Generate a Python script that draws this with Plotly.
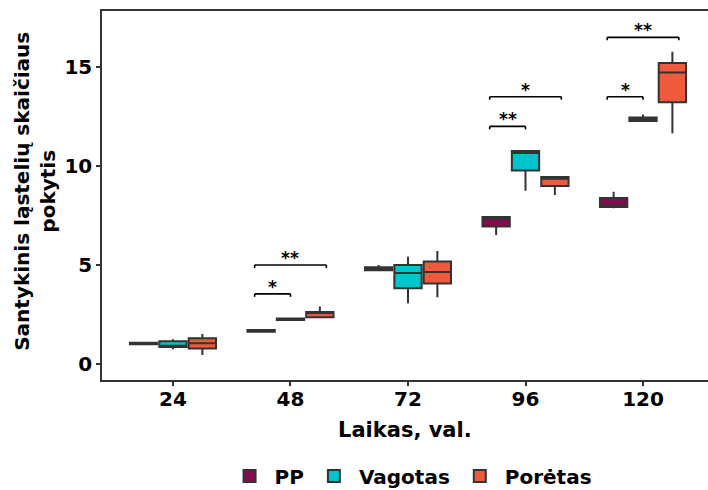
import plotly.graph_objects as go

# ---- data ----
times = ["24", "48", "72", "96", "120"]
groups = ["PP", "Vagotas", "Porėtas"]
colors = ["#850A50", "#00C4CC", "#EF5A3C"]

pp_q1 = [0.99, 1.63, 4.74, 6.95, 7.93]
pp_med = [1.03, 1.67, 4.82, 7.34, 8.00]
pp_q3 = [1.07, 1.71, 4.88, 7.42, 8.38]
pp_lo = [0.99, 1.63, 4.74, 6.52, 7.86]
pp_hi = [1.07, 1.71, 5.00, 7.42, 8.70]

vg_q1 = [0.86, 2.22, 3.82, 9.77, 12.27]
vg_med = [0.92, 2.26, 4.60, 10.66, 12.35]
vg_q3 = [1.15, 2.30, 5.00, 10.76, 12.45]
vg_lo = [0.74, 2.22, 3.07, 8.75, 12.27]
vg_hi = [1.25, 2.30, 5.42, 10.76, 12.60]

po_q1 = [0.78, 2.36, 4.06, 8.99, 13.22]
po_med = [1.05, 2.57, 4.65, 9.36, 14.72]
po_q3 = [1.30, 2.63, 5.17, 9.44, 15.20]
po_lo = [0.45, 2.36, 3.37, 8.54, 11.65]
po_hi = [1.52, 2.90, 5.71, 9.44, 15.77]

# significance brackets: time index, compared group, level, label
sig_time = [1, 1, 3, 3, 4, 4]
sig_to = ["Vagotas", "Porėtas", "Vagotas", "Porėtas", "Vagotas", "Porėtas"]
sig_level = [3.54, 5.0, 12.0, 13.5, 13.5, 16.5]
sig_label = ["*", "**", "**", "*", "*", "**"]

yticks = [0, 5, 10, 15]
x_title = "Laikas, val."
y_title = "Santykinis ląstelių skaičiaus<br>pokytis"

FONT = "DejaVu Sans"
DARK = "#333333"

fig = go.Figure()
stats = [
    (pp_q1, pp_med, pp_q3, pp_lo, pp_hi),
    (vg_q1, vg_med, vg_q3, vg_lo, vg_hi),
    (po_q1, po_med, po_q3, po_lo, po_hi),
]
for name, col, (q1, med, q3, lo, hi) in zip(groups, colors, stats):
    fig.add_trace(go.Box(
        x=times, q1=q1, median=med, q3=q3, lowerfence=lo, upperfence=hi,
        name=name, fillcolor=col, line=dict(color=DARK, width=2),
        whiskerwidth=0, boxpoints=False, hoverinfo="skip",
    ))

# brackets
start_off = -0.305
end_off = {"Vagotas": 0.0, "Porėtas": 0.305}
tip = 0.15
shapes = []
annotations = []
for ti, to, lev, lab in zip(sig_time, sig_to, sig_level, sig_label):
    x0 = ti + start_off
    x1 = ti + end_off[to]
    ln = dict(color="black", width=1.6)
    shapes.append(dict(type="line", xref="x", yref="y", x0=x0, x1=x1, y0=lev, y1=lev, line=ln))
    shapes.append(dict(type="line", xref="x", yref="y", x0=x0, x1=x0, y0=lev, y1=lev - tip, line=ln))
    shapes.append(dict(type="line", xref="x", yref="y", x0=x1, x1=x1, y0=lev, y1=lev - tip, line=ln))
    annotations.append(dict(x=(x0 + x1) / 2, y=lev, xref="x", yref="y", text=lab,
                            showarrow=False, yanchor="bottom", yshift=-5,
                            font=dict(family=FONT, size=17, weight="bold", color="black")))

# axis titles
annotations.append(dict(x=0.5, y=0, xref="paper", yref="paper", text=x_title,
                        showarrow=False, xanchor="center", yanchor="middle", yshift=-50,
                        font=dict(family=FONT, size=21, weight="bold", color="black")))
annotations.append(dict(x=0, y=0.51, xref="paper", yref="paper", text=y_title,
                        showarrow=False, xanchor="center", yanchor="middle", xshift=-67,
                        textangle=-90,
                        font=dict(family=FONT, size=20, weight="bold", color="black")))

fig.update_layout(
    width=708, height=490,
    margin=dict(l=102, r=0, t=11, b=110, autoexpand=False),
    paper_bgcolor="white", plot_bgcolor="white",
    boxmode="group", boxgap=0.25, boxgroupgap=0.07,
    shapes=shapes, annotations=annotations,
    font=dict(family=FONT, color="black"),
    legend=dict(orientation="h", x=0.51, xanchor="center", y=-0.26, yanchor="middle",
                font=dict(family=FONT, size=20, weight="bold", color="black"),
                itemwidth=40),
    showlegend=True,
)
fig.update_xaxes(
    type="category", range=[-0.604, 4.553], automargin=False,
    showgrid=False, zeroline=False,
    showline=True, linecolor=DARK, linewidth=1.5, mirror=True,
    ticks="outside", ticklen=4, tickwidth=1.5, tickcolor=DARK,
    ticklabelstandoff=-4,
    tickfont=dict(family=FONT, size=20, weight="bold", color="black"),
)
fig.update_yaxes(
    range=[-0.81, 17.83], tickvals=yticks, automargin=False,
    showgrid=False, zeroline=False,
    showline=True, linecolor=DARK, linewidth=1.5, mirror=False,
    ticks="outside", ticklen=4, tickwidth=1.5, tickcolor=DARK,
    tickfont=dict(family=FONT, size=20, weight="bold", color="black"),
)

fig.write_html(
    "out.html",
    config={"displayModeBar": False},
    post_script="document.body.style.margin='0';document.body.style.overflow='hidden';",
)
